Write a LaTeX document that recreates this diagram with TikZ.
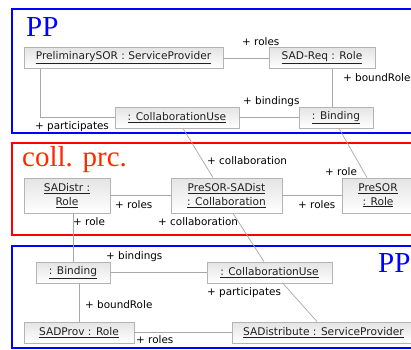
\documentclass[tikz,border=0pt]{standalone}
\usepackage{fontspec}
\setmainfont{Liberation Serif}
\newfontfamily\uifont{DejaVu Sans}
\usetikzlibrary{calc}
\definecolor{boxline}{HTML}{B4B4B4}
\definecolor{boxtop}{HTML}{E4E4E4}
\definecolor{conn}{HTML}{A8A8A8}
\definecolor{txt}{HTML}{202020}
\definecolor{pblue}{HTML}{0000FF}
\definecolor{pred}{HTML}{FF0000}
\definecolor{predtxt}{HTML}{FF2A00}
\tikzset{
  umlbox/.style={draw=boxline, line width=0.8pt, top color=boxtop, bottom color=white,
    text=txt, font=\uifont\fontsize{10.6}{13.5}\selectfont, align=center,
    inner sep=0pt, minimum height=21pt},
  tallbox/.style={umlbox, minimum height=35pt},
  conline/.style={draw=conn, line width=0.7pt},
  lbl/.style={font=\uifont\fontsize{10.4}{12}\selectfont, text=black, anchor=west, inner sep=0pt},
  frame/.style={line width=2.2pt},
  ftitle/.style={font=\fontsize{29}{32}\selectfont, inner sep=0pt, anchor=west}
}
\begin{document}
\begin{tikzpicture}[x=1pt,y=-1pt]
\useasboundingbox (0,0) rectangle (411,349);
\begin{scope}
\clip (0,0) rectangle (411,349);
% frames
\draw[frame, pblue] (12,9) rectangle (418,133);
\draw[frame, pred] (12,143) rectangle (418,235);
\draw[frame, pblue] (12,246) rectangle (418,348);
\node[ftitle, text=pblue] (t1) at (26,27) {PP};
\node[ftitle, text=predtxt] (t2) at (22,160) {coll. prc.};
\node[ftitle, text=pblue] (t3) at (378,263) {PP};

% helper coordinates
\coordinate (x40) at (40,0);
\coordinate (x332) at (332,0);
\coordinate (x73) at (73,0);
\coordinate (x79) at (79,0);

% top PP boxes
\node[umlbox, minimum width=199pt] (psor) at (123.5,58) {\underline{PreliminarySOR : ServiceProvider}};
\node[umlbox, minimum width=106pt] (sadreq) at (322,58) {\underline{SAD-Req : Role}};
\node[umlbox, minimum width=124pt] (cuse1) at (177,117.5) {\underline{: CollaborationUse}};
\node[umlbox, minimum width=74pt] (bind1) at (336,117.5) {\underline{: Binding}};

% collaboration boxes
\node[tallbox, minimum width=86pt] (sadistr) at (67,195.5) {\underline{SADistr :}\\\underline{Role}};
\node[tallbox, minimum width=111pt] (collab) at (226.5,195.5) {\underline{PreSOR-SADist}\\\underline{: Collaboration}};
\node[tallbox, minimum width=72pt] (presor) at (378,195.5) {\underline{PreSOR}\\\underline{: Role}};

% bottom PP boxes
\node[umlbox, minimum width=74pt] (bind2) at (73,272.5) {\underline{: Binding}};
\node[umlbox, minimum width=125pt] (cuse2) at (269.5,272.5) {\underline{: CollaborationUse}};
\node[umlbox, minimum width=110pt] (sadprov) at (79,332.5) {\underline{SADProv : Role}};
\node[umlbox, minimum width=183pt] (sadist) at (323.5,332.5) {\underline{SADistribute : ServiceProvider}};

% connectors
\draw[conline] (psor.east) -- (sadreq.west);
\draw[conline] (sadreq.south -| x332) -- (bind1.north -| x332);
\draw[conline] (psor.south -| x40) |- (cuse1.west);
\draw[conline] (cuse1.east) -- (bind1.west);
\draw[conline] ($(cuse1.south)+(6,0)$) -- ($(collab.north)+(-13.5,0)$);
\draw[conline] ($(bind1.south)+(3,0)$) -- ($(presor.north)+(-11,0)$);
\draw[conline] (sadistr.east) -- (collab.west);
\draw[conline] (collab.east) -- (presor.west);
\draw[conline] (sadistr.south -| x73) -- (bind2.north -| x73);
\draw[conline] ($(collab.south)+(6.5,0)$) -- ($(cuse2.north)+(-5.5,0)$);
\draw[conline] ($(cuse2.south)+(13.5,0)$) -- ($(sadist.north)+(-6.5,0)$);
\draw[conline] (bind2.east) -- (cuse2.west);
\draw[conline] (bind2.south -| x79) -- (sadprov.north -| x79);
\draw[conline] (sadprov.east) -- (sadist.west);

% labels
\node[lbl] (l1) at (242,42) {+ roles};
\node[lbl] (l2) at (343,78) {+ boundRole};
\node[lbl] (l3) at (243,102) {+ bindings};
\node[lbl] (l4) at (35,127) {+ participates};
\node[lbl] (l5) at (207,161) {+ collaboration};
\node[lbl] (l6) at (325,172) {+ role};
\node[lbl] (l7) at (115,205) {+ roles};
\node[lbl] (l8) at (298,205) {+ roles};
\node[lbl] (l9) at (73,222) {+ role};
\node[lbl] (l10) at (158,222) {+ collaboration};
\node[lbl] (l11) at (106,257) {+ bindings};
\node[lbl] (l12) at (207,293) {+ participates};
\node[lbl] (l13) at (85,305) {+ boundRole};
\node[lbl] (l14) at (136,340) {+ roles};
\end{scope}
\end{tikzpicture}
\end{document}
